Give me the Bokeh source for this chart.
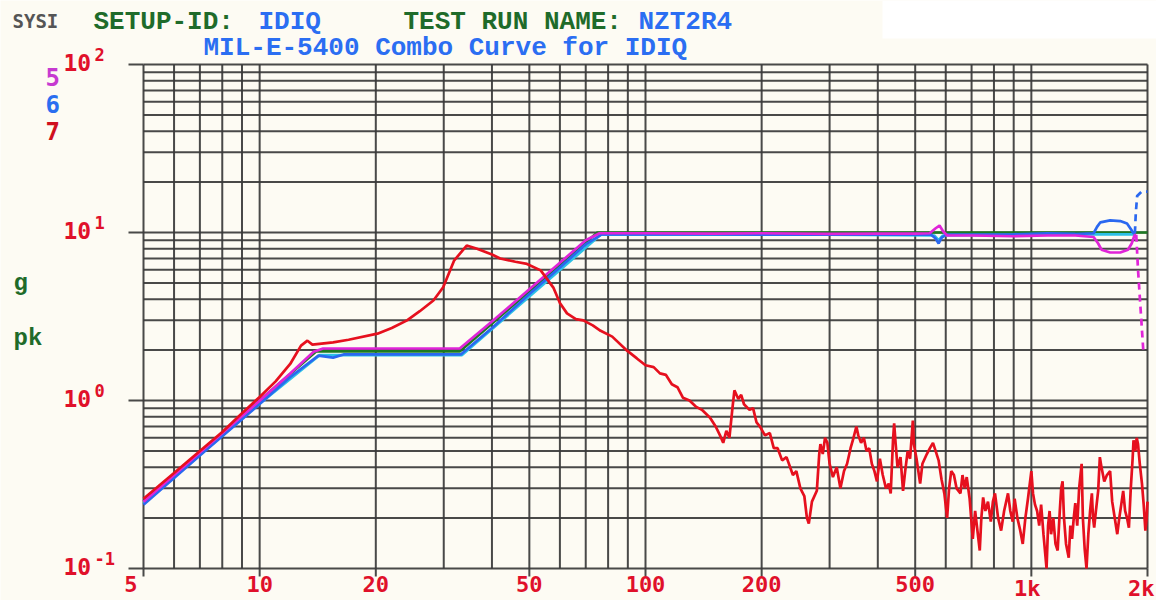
import math
from bokeh.plotting import figure
from bokeh.models import Label, Range1d
from bokeh.embed import file_html
from bokeh.resources import INLINE

# ---------------- data ----------------
freq_ticks = [5, 10, 20, 50, 100, 200, 500, 1000, 2000]
freq_tick_labels = ["5", "10", "20", "50", "100", "200", "500", "1k", "2k"]
x_grid = [5, 6, 7, 8, 9, 10, 20, 30, 40, 50, 60, 70, 80, 90, 100, 200, 300, 400,
          500, 600, 700, 800, 900, 1000, 2000]
y_grid = [0.1, 0.2, 0.3, 0.4, 0.5, 0.6, 0.7, 0.8, 0.9, 1, 2, 3, 4, 5, 6, 7, 8, 9,
          10, 20, 30, 40, 50, 60, 70, 80, 90, 100]
y_decades = [0.1, 1, 10, 100]
y_exponents = ["-1", "0", "1", "2"]

# reference profile (green)
ref_f = [5, 14, 33, 75, 2000]
ref_g = [0.25, 1.96, 1.96, 10.0, 10.0]

# channel 5 (magenta)
mag_f = [5, 7, 9.5, 12, 13.8, 14.6, 18, 22, 26, 30, 33.0, 40, 50, 60, 70, 76, 100,
         150, 200, 300, 400, 500, 545, 565, 578, 590, 605, 700, 900, 1100, 1300,
         1450, 1490, 1520, 1600, 1700, 1780, 1820, 1850, 1870]
mag_g = [0.25, 0.49, 0.9, 1.45, 1.95, 2.04, 2.04, 2.04, 2.04, 2.04, 2.04, 2.95, 4.6,
         6.6, 9.0, 9.9, 9.9, 9.85, 9.9, 9.8, 9.85, 9.85, 9.9, 10.6, 11.0, 10.2, 9.6,
         9.6, 9.5, 9.6, 9.6, 9.4, 8.6, 7.9, 7.6, 7.6, 7.9, 8.6, 9.6, 9.7]
mag_tail_f = [1870, 1890, 1950]
mag_tail_g = [9.7, 6.0, 2.0]

# channel 6 (blue)
blue_f = [5, 7, 9.5, 12, 14.2, 15.5, 16.5, 20, 25, 30, 33.2, 40, 50, 60, 70, 77, 100,
          150, 200, 300, 400, 500, 550, 565, 575, 585, 600, 700, 900, 1100, 1300,
          1450, 1480, 1510, 1600, 1700, 1770, 1810, 1840, 1855]
blue_g = [0.24, 0.47, 0.86, 1.38, 1.85, 1.8, 1.88, 1.88, 1.88, 1.88, 1.88, 2.7, 4.3,
          6.2, 8.5, 9.75, 9.75, 9.75, 9.7, 9.75, 9.7, 9.75, 9.7, 9.2, 8.6, 9.3, 9.7,
          9.7, 9.75, 9.9, 9.8, 9.9, 10.8, 11.5, 11.8, 11.7, 11.3, 10.5, 9.9, 9.9]
blue_tail_f = [1855, 1865, 1880, 1930, 2000]
blue_tail_g = [9.9, 13.0, 16.5, 17.5, 17.5]

# companion trace (cyan)
cyan_f = [5, 9.5, 14.3, 33.4, 76.5, 300, 560, 575, 590, 1000, 1450, 1850]
cyan_g = [0.245, 0.87, 1.86, 1.86, 9.7, 9.7, 9.6, 9.0, 9.6, 9.7, 9.75, 9.75]

# channel 7 (red)
red_f = [5, 6, 7, 8, 9, 10, 11, 12, 12.8, 13.3, 13.7, 15.5, 17, 20.2, 22, 24.1, 26,
         28.2, 29.9, 31.9, 34.4, 36.6, 40, 42, 46, 49.3, 53.5, 57.7, 60, 62.6, 66,
         69, 73, 76.5, 82, 89.6, 95, 100, 105, 109, 113, 117, 121, 125, 130, 135,
         140, 147, 152, 156, 159, 162, 165, 168, 170, 174, 177, 180, 186, 190, 194,
         198, 204, 210, 215, 220, 226, 232, 241, 246, 252, 258, 262, 265, 270, 278,
         282, 284, 288, 292, 296, 300, 306, 313, 320, 327, 333, 340, 346, 352, 356,
         362, 368, 374, 380, 386, 392, 398, 405, 412, 420, 427, 432, 438, 441, 445,
         450, 458, 465, 471, 478, 485, 493, 496, 504, 515, 522, 536, 546, 556, 565,
         575, 585, 595, 605, 612, 620, 630, 640, 655, 663, 672, 680, 692, 705, 715,
         735, 742, 750, 760, 772, 785, 795, 805, 820, 835, 850, 870, 882, 895, 905,
         920, 935, 950, 965, 980, 1000, 1010, 1022, 1035, 1048, 1060, 1075, 1095,
         1105, 1115, 1125, 1140, 1155, 1170, 1185, 1195, 1205, 1215, 1230, 1250,
         1262, 1275, 1288, 1300, 1315, 1330, 1350, 1360, 1375, 1390, 1405, 1420,
         1435, 1445, 1455, 1470, 1490, 1505, 1520, 1545, 1570, 1600, 1620, 1645,
         1670, 1690, 1710, 1730, 1750, 1770, 1790, 1810, 1830, 1840, 1860, 1875,
         1890, 1910, 1935, 1955, 1975, 1990, 2000]
red_g = [0.26, 0.37, 0.5, 0.65, 0.84, 1.05, 1.3, 1.65, 2.12, 2.27, 2.15, 2.22, 2.3,
         2.5, 2.7, 3.0, 3.4, 3.94, 4.72, 6.8, 8.36, 8.0, 7.4, 7.0, 6.7, 6.5, 5.95,
         4.7, 3.8, 3.3, 3.05, 3.0, 2.8, 2.6, 2.4, 1.98, 1.78, 1.62, 1.58, 1.45, 1.42,
         1.25, 1.2, 1.04, 1.0, 0.92, 0.88, 0.79, 0.7, 0.62, 0.56, 0.66, 0.6, 0.9,
         1.15, 1.02, 1.08, 0.95, 0.88, 0.9, 0.74, 0.7, 0.62, 0.64, 0.52, 0.52, 0.44,
         0.46, 0.36, 0.38, 0.3, 0.27, 0.2, 0.185, 0.25, 0.29, 0.48, 0.55, 0.48, 0.6,
         0.56, 0.42, 0.35, 0.4, 0.3, 0.38, 0.42, 0.52, 0.6, 0.7, 0.62, 0.56, 0.6,
         0.5, 0.52, 0.42, 0.38, 0.33, 0.45, 0.36, 0.3, 0.32, 0.28, 0.58, 0.73, 0.55,
         0.4, 0.46, 0.29, 0.38, 0.5, 0.45, 0.76, 0.55, 0.45, 0.32, 0.42, 0.48, 0.52,
         0.56, 0.5, 0.44, 0.34, 0.28, 0.2, 0.3, 0.38, 0.36, 0.3, 0.28, 0.36, 0.3,
         0.35, 0.26, 0.15, 0.22, 0.128, 0.2, 0.265, 0.22, 0.25, 0.19, 0.25, 0.28,
         0.2, 0.168, 0.22, 0.28, 0.22, 0.19, 0.26, 0.2, 0.17, 0.14, 0.2, 0.26, 0.38,
         0.28, 0.24, 0.22, 0.18, 0.24, 0.16, 0.10, 0.18, 0.22, 0.16, 0.2, 0.14,
         0.128, 0.22, 0.3, 0.33, 0.2, 0.14, 0.116, 0.18, 0.15, 0.2, 0.245, 0.18, 0.3,
         0.42, 0.2, 0.13, 0.10, 0.16, 0.22, 0.28, 0.2, 0.175, 0.22, 0.29, 0.46, 0.4,
         0.33, 0.36, 0.38, 0.25, 0.2, 0.16, 0.2, 0.24, 0.29, 0.22, 0.2, 0.175, 0.3,
         0.45, 0.58, 0.5, 0.6, 0.55, 0.42, 0.32, 0.24, 0.168, 0.2, 0.25]

# ---------------- layout / styling ----------------
W, H = 1156, 600
# pixel box of the chart area inside the canvas
PL, PR, PT, PB = 143, 1147, 64, 568
X0, X1 = freq_ticks[0], freq_ticks[-1]
Y0, Y1 = y_decades[0], y_decades[-1]

px_dec_x = (PR - PL) / (math.log10(X1) - math.log10(X0))
px_dec_y = (PB - PT) / (math.log10(Y1) - math.log10(Y0))

def xpx(dx):  # factor for a horizontal pixel shift on the log axis
    return 10 ** (dx / px_dec_x)

def ypx(dy):
    return 10 ** (dy / px_dec_y)

x_lo = X0 / xpx(PL)
x_hi = X1 * xpx(W - PR)
y_lo = Y0 / ypx(H - PB)
y_hi = Y1 * ypx(PT)

CREAM = "#fdfbf3"
GRID = "#3a3a3a"
RED_TXT = "#e0102a"
GREEN_TXT = "#1f6b2a"
BLUE_TXT = "#2b6ef2"
MONO = "DejaVu Sans Mono"
MONO_SERIF = "Liberation Mono"

p = figure(width=W, height=H, x_axis_type="log", y_axis_type="log",
           x_range=Range1d(x_lo, x_hi), y_range=Range1d(y_lo, y_hi),
           x_axis_location=None, y_axis_location=None,
           output_backend="svg", toolbar_location=None,
           min_border=0, min_border_left=0, min_border_right=0,
           min_border_top=0, min_border_bottom=0,
           background_fill_color=CREAM, border_fill_color=CREAM,
           outline_line_color=None)
p.xgrid.visible = False
p.ygrid.visible = False

# white patch top right (scan artefact of the original page)
p.quad(left=[X1 / xpx(265)], right=[x_hi], bottom=[Y1 * ypx(26)], top=[y_hi],
       fill_color="white", line_color=None)

# grid
GA = 0.92
p.segment(x0=x_grid, y0=[Y0] * len(x_grid), x1=x_grid, y1=[Y1] * len(x_grid),
          line_color=GRID, line_width=2, line_alpha=GA)
p.segment(x0=[X0] * len(y_grid), y0=y_grid, x1=[X1] * len(y_grid), y1=y_grid,
          line_color=GRID, line_width=2, line_alpha=GA)
# ticks outside the chart box
p.segment(x0=[X0 / xpx(15)] * len(y_decades), y0=y_decades,
          x1=[X0] * len(y_decades), y1=y_decades,
          line_color=GRID, line_width=2, line_alpha=GA)
p.segment(x0=freq_ticks, y0=[Y0] * len(freq_ticks), x1=freq_ticks,
          y1=[Y0 / ypx(8)] * len(freq_ticks),
          line_color=GRID, line_width=2, line_alpha=GA)

# ---------------- curves ----------------
LW = 2.7
p.line(ref_f, ref_g, line_color="#1d7a22", line_width=LW)
p.line(cyan_f, cyan_g, line_color="#2cc0e6", line_width=LW)
p.line(blue_f, blue_g, line_color="#2a68f0", line_width=LW)
p.line(blue_tail_f, blue_tail_g, line_color="#2a68f0", line_width=LW, line_dash="7 5")
p.line(mag_f, mag_g, line_color="#e024d8", line_width=LW)
p.line(mag_tail_f, mag_tail_g, line_color="#e024d8", line_width=LW, line_dash="7 5")
p.line(red_f, red_g, line_color="#e6101e", line_width=LW)

# ---------------- text ----------------
def lab(x, y, text, dx, dy, color, size, font=MONO, align="left", baseline="middle"):
    p.add_layout(Label(x=x, y=y, text=text, x_offset=dx, y_offset=dy,
                       text_color=color, text_font=font, text_font_size=f"{size}px",
                       text_font_style="bold", text_align=align,
                       text_baseline=baseline))

# x tick labels
for f, t in zip(freq_ticks, freq_tick_labels):
    if f == freq_ticks[0]:
        lab(f, Y0, t, -6, -7, RED_TXT, 22, align="right", baseline="top")
    elif f == freq_ticks[-1]:
        lab(f, Y0, t, 7, -7, RED_TXT, 22, align="right", baseline="top")
    elif t.endswith("k"):
        lab(f, Y0, t, -4, -7, RED_TXT, 22, align="center", baseline="top")
    else:
        lab(f, Y0, t, 0, -7, RED_TXT, 22, align="center", baseline="top")

# y tick labels 10^n
for v, e in zip(y_decades, y_exponents):
    lab(X0, v, "10", -80, 2, RED_TXT, 23, baseline="alphabetic")
    lab(X0, v, e, -49, 10, RED_TXT, 17, baseline="alphabetic")

# header (anchored at the top-left corner of the chart box)
lab(X0, Y1, "SYSI", -131, 44, "#555555", 19)
lab(X0, Y1, "SETUP-ID:", -50, 43, GREEN_TXT, 26, font=MONO_SERIF)
lab(X0, Y1, "IDIQ", 115, 43, BLUE_TXT, 26, font=MONO_SERIF)
lab(X0, Y1, "TEST RUN NAME:", 260, 43, GREEN_TXT, 26, font=MONO_SERIF)
lab(X0, Y1, "NZT2R4", 495, 43, BLUE_TXT, 26, font=MONO_SERIF)
lab(X0, Y1, "MIL-E-5400 Combo Curve for IDIQ", 60, 17, BLUE_TXT, 26, font=MONO_SERIF)

# channel legend
lab(X0, Y1, "5", -98, -12, "#c63ad0", 24)
lab(X0, Y1, "6", -98, -39, "#2a6ef0", 24)
lab(X0, Y1, "7", -98, -66, "#d0101e", 24)

# unit label
lab(X0, Y1, "g", -130, -219, GREEN_TXT, 24, font=MONO_SERIF, baseline="alphabetic")
lab(X0, Y1, "pk", -130, -274, GREEN_TXT, 24, font=MONO_SERIF, baseline="alphabetic")

open("out.html", "w").write(file_html(p, INLINE))
